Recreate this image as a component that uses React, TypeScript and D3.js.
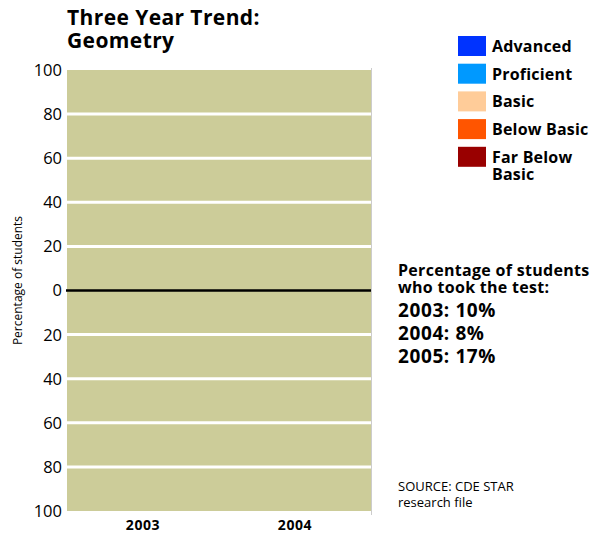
import React from "react";
import * as d3 from "d3";

const years = ["2003", "2004"];
const yTicks = [100, 80, 60, 40, 20, 0, 20, 40, 60, 80, 100];
const gridValues = [80, 60, 40, 20, -20, -40, -60, -80];
const legendLabels = ["Advanced", "Proficient", "Basic", "Below Basic", "Far Below Basic"];
const legendColors = ["#0033FF", "#0099FF", "#FFCC99", "#FF5500", "#990000"];
// No bars are shown in the reference: every series is empty (zero)
const advanced = [0, 0];
const proficient = [0, 0];
const basic = [0, 0];
const belowBasic = [0, 0];
const farBelowBasic = [0, 0];
const participation = ["2003: 10%", "2004: 8%", "2005: 17%"];

const W = 598;
const H = 533;
const FONT = "'Open Sans', 'Noto Sans', sans-serif";

export default function App() {
  const x = d3.scaleBand<string>().domain(years).range([67, 371]).paddingInner(0.3).paddingOuter(0.15);
  const y = d3.scaleLinear().domain([100, -100]).range([70, 511]);
  const tickPos = d3.range(100, -101, -20);

  const posSeries = [proficient, advanced];
  const negSeries = [basic, belowBasic, farBelowBasic];
  const posColors = [legendColors[1], legendColors[0]];
  const negColors = [legendColors[2], legendColors[3], legendColors[4]];

  const bars: React.ReactNode[] = [];
  years.forEach((yr, i) => {
    let acc = 0;
    posSeries.forEach((s, k) => {
      const v0 = acc, v1 = acc + s[i];
      acc = v1;
      bars.push(
        <rect key={`p${i}${k}`} x={x(yr)} width={x.bandwidth()} y={y(v1)} height={y(v0) - y(v1)} fill={posColors[k]} />
      );
    });
    acc = 0;
    negSeries.forEach((s, k) => {
      const v0 = acc, v1 = acc - s[i];
      acc = v1;
      bars.push(
        <rect key={`n${i}${k}`} x={x(yr)} width={x.bandwidth()} y={y(v0)} height={y(v1) - y(v0)} fill={negColors[k]} />
      );
    });
  });

  const legendY = d3.scaleLinear().domain([0, 1]).range([36, 63.7]);

  return (
    <svg width={W} height={H} style={{ position: "absolute", left: 0, top: 0, display: "block" }} fontFamily={FONT}>
      <rect x={0} y={0} width={W} height={H} fill="#ffffff" />
      {/* title */}
      <text x={67} y={25} fontSize={21} fontWeight="bold" letterSpacing={0.4} fill="#000">Three Year Trend:</text>
      <text x={67} y={48} fontSize={21} fontWeight="bold" letterSpacing={0.4} fill="#000">Geometry</text>

      {/* plot background */}
      <rect x={67} y={y(100)} width={304} height={y(-100) - y(100)} fill="#CCCC99" />
      <line x1={371.5} x2={371.5} y1={y(100) - 2} y2={y(-100) + 4} stroke="#cccccc" strokeWidth={1} />
      {gridValues.map((v, i) => (
        <line key={i} x1={67} x2={371} y1={y(v)} y2={y(v)} stroke="#ffffff" strokeWidth={3} />
      ))}
      {bars}
      <line x1={66} x2={371} y1={y(0)} y2={y(0)} stroke="#000000" strokeWidth={2.5} />

      {/* y ticks */}
      {tickPos.map((v, i) => (
        <text key={i} x={62} y={y(v)} dy="0.36em" textAnchor="end" fontSize={16.5} fill="#000">
          {yTicks[i]}
        </text>
      ))}
      <text transform={`translate(22, ${y(0) - 10}) rotate(-90)`} textAnchor="middle" fontSize={12} fill="#000">
        Percentage of students
      </text>

      {/* x labels */}
      {years.map((yr) => (
        <text key={yr} x={(x(yr) as number) + x.bandwidth() / 2} y={530} textAnchor="middle" fontSize={14} fontWeight="bold" letterSpacing={0.6} fill="#000">
          {yr}
        </text>
      ))}

      {/* legend */}
      {legendLabels.map((lab, i) => {
        const ly = legendY(i);
        const words = lab === "Far Below Basic" ? ["Far Below", "Basic"] : [lab];
        return (
          <g key={lab}>
            <rect x={458} y={ly} width={28} height={20} fill={legendColors[i]} />
            {words.map((w, j) => (
              <text key={j} x={492} y={ly + 16 + j * 17} fontSize={16} fontWeight="bold" letterSpacing={0.2} fill="#000">
                {w}
              </text>
            ))}
          </g>
        );
      })}

      {/* participation note */}
      <text x={398} y={276} fontSize={16} fontWeight="bold" letterSpacing={0.3} fill="#000">Percentage of students</text>
      <text x={398} y={293} fontSize={16} fontWeight="bold" letterSpacing={0.3} fill="#000">who took the test:</text>
      {participation.map((p, i) => (
        <text key={p} x={398} y={317 + i * 23} fontSize={19} fontWeight="bold" letterSpacing={0.6} fill="#000">{p}</text>
      ))}

      <text x={398} y={491} fontSize={13} fill="#000">SOURCE: CDE STAR</text>
      <text x={398} y={507} fontSize={13} fill="#000">research file</text>
    </svg>
  );
}
